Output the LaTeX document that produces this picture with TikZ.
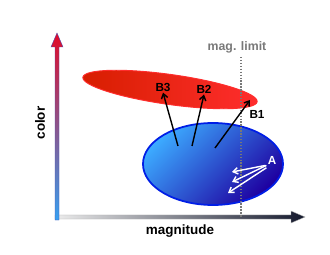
\documentclass[tikz,border=0pt]{standalone}
\usepackage{fontspec}
\setsansfont{Liberation Sans}
\usetikzlibrary{arrows.meta, shapes.geometric, positioning}
\definecolor{axisred}{RGB}{225,10,40}
\definecolor{axisblue}{RGB}{55,160,240}
\definecolor{axisdark}{RGB}{20,25,45}
\definecolor{bluelight}{RGB}{60,170,255}
\definecolor{bluedark}{RGB}{30,0,160}
\definecolor{blueedge}{RGB}{0,30,230}
\definecolor{reddark}{RGB}{215,30,0}
\definecolor{redlight}{RGB}{255,45,45}
\definecolor{limitgray}{RGB}{120,120,120}

\begin{document}
\begin{tikzpicture}[x=0.03cm, y=-0.03cm,
    lbl/.style={font=\sffamily\bfseries\fontsize{11.5}{13}\selectfont, inner sep=1pt},
    tag/.style={font=\sffamily\bfseries\fontsize{10}{12}\selectfont, inner sep=1pt},
    arr/.style={-{Straight Barb[length=4pt,width=5.5pt]}, line width=1.2pt},
    redcloud/.style={ellipse, inner sep=0pt, minimum width=5.28cm, minimum height=0.9cm, rotate=-8,
        left color=reddark, right color=redlight, draw=redlight, line width=0.8pt},
    bluecloud/.style={ellipse, inner sep=0pt, minimum width=4.2cm, minimum height=2.46cm,
        top color=bluelight, bottom color=bluedark, shading angle=45, draw=blueedge, line width=1.5pt},
    limit/.style={limitgray, line width=1.2pt, dash pattern=on 1.2pt off 1.3pt}
  ]
  \useasboundingbox (0,0) rectangle (330,255);

  \shade[left color=white!85!gray, right color=axisdark, draw=gray!60, line width=0.3pt]
    (55,215) -- (291,215) -- (291,211) -- (305,217) -- (291,223) -- (291,219) -- (55,219) -- cycle;
  \shade[bottom color=axisblue, top color=axisred, draw=gray!60!blue, line width=0.3pt]
    (55,220) -- (55,47) -- (51,47) -- (57,33) -- (63,47) -- (59,47) -- (59,220) -- cycle;

  \node[lbl, rotate=90] (colorlbl) at (40,123) {color};
  \node[lbl] (maglbl) at (180,231) {magnitude};
  \node[tag, limitgray, font=\sffamily\bfseries\fontsize{10.5}{12}\selectfont] (limitlbl) at (237,47) {mag. limit};

  \node[redcloud] (redcl) at (170,89.5) {};
  \node[bluecloud] (bluecl) at (213,164) {};

  \coordinate (limtop) at (241,57);
  \coordinate (limbot) at (241,218);
  \draw[limit] (limtop) -- (limbot);

  \node[tag] (b3) at (163,87) {B3};
  \node[tag] (b2) at (204,89) {B2};
  \node[tag] (b1) at (257,114) {B1};
  \node[tag, white] (lblA) at (272,160) {A};

  \coordinate (s3) at (178,146);
  \coordinate (s2) at (192,146);
  \coordinate (s1) at (215,148);
  \coordinate (t1) at (250,100);
  \draw[arr] (s3) -- (b3.south);
  \draw[arr] (s2) -- (b2.south);
  \draw[arr] (s1) -- (t1);

  \coordinate (w1) at (232,172);
  \coordinate (w2) at (232,182);
  \coordinate (w3) at (228,193);
  \draw[arr, white] ([xshift=-1pt]lblA.south west) -- (w1);
  \draw[arr, white] (lblA.south west) -- (w2);
  \draw[arr, white] ([yshift=-2pt]lblA.south west) -- (w3);
\end{tikzpicture}
\end{document}
